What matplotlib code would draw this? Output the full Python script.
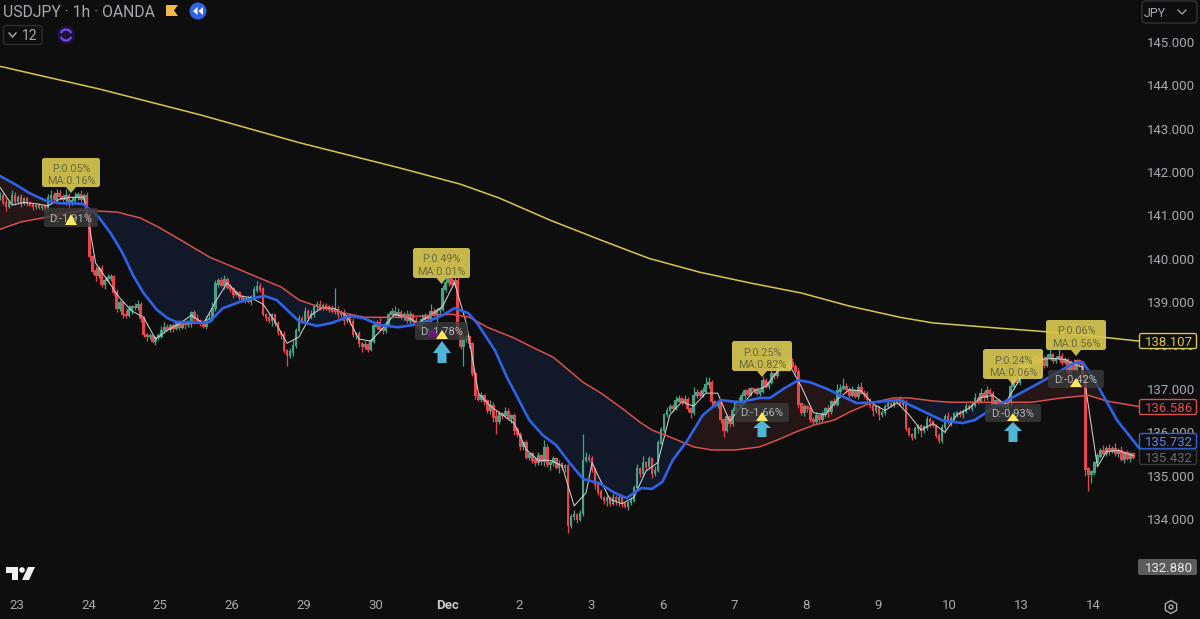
import numpy as np
import matplotlib
matplotlib.use("Agg")
import matplotlib.pyplot as plt
from matplotlib.patches import FancyBboxPatch, Polygon, Rectangle, Circle, Arc, RegularPolygon

plt.rcParams['font.family'] = ['Roboto', 'DejaVu Sans']

closes = [
141.45,141.30,141.22,141.30,141.46,141.32,141.40,141.28,141.38,141.28,141.24,141.20,141.22,141.18,141.21,141.16,
141.40,141.46,141.38,141.50,141.44,141.36,141.46,141.28,141.34,141.42,141.48,141.36,141.46,141.05,
140.05,139.72,139.62,139.78,139.40,139.50,139.56,139.58,139.22,138.85,
138.98,138.72,138.70,138.82,138.90,138.88,138.95,138.62,138.25,138.20,138.22,138.10,138.18,138.22,138.35,138.42,138.38,138.45,138.40,138.50,138.42,138.52,138.48,138.50,
138.75,138.62,138.58,138.52,138.45,138.60,138.62,138.85,139.42,139.50,139.38,139.52,139.35,139.30,139.18,139.22,139.10,139.05,139.08,139.02,139.12,139.28,139.35,139.30,138.72,138.65,138.58,138.70,138.50,138.32,138.25,137.88,137.78,137.85,138.00,138.35,
138.62,138.58,138.78,138.65,138.72,138.90,138.94,138.86,138.92,138.90,138.84,138.78,138.82,138.72,138.76,138.58,138.66,138.55,138.25,138.28,138.05,137.98,138.02,137.92,138.10,138.45,138.52,138.38,
138.35,138.48,138.72,138.78,138.70,138.76,138.68,138.72,138.58,138.72,138.55,138.50,138.45,138.60,138.68,138.62,138.78,138.72,138.80,138.84,139.30,139.45,139.55,139.40,139.50,138.30,137.98,138.15,138.20,138.05,137.35,136.85,136.75,136.85,136.72,136.50,136.62,136.35,136.25,136.42,136.38,136.48,136.32,136.38,136.05,135.95,135.68,135.75,135.42,135.50,135.36,135.30,135.45,135.32,135.65,135.25,135.30,135.38,135.20,135.28,135.18,135.22,
133.85,134.05,134.10,134.00,134.12,135.35,135.42,135.38,135.15,134.80,134.62,134.50,134.42,134.48,134.35,134.50,134.42,134.48,134.35,134.30,134.38,134.42,134.72,135.15,135.05,135.30,135.22,135.38,135.05,135.12,135.75,136.05,136.40,136.50,136.60,136.55,136.72,136.78,136.70,136.75,136.55,136.45,136.85,136.92,136.85,136.95,137.10,137.15,136.70,136.62,136.68,136.30,136.05,136.35,136.20,136.50,136.70,136.62,136.85,136.95,136.88,137.00,136.98,136.90,
136.95,137.20,137.05,137.15,137.35,137.30,137.55,137.45,137.55,137.48,137.60,137.52,137.40,136.65,136.45,136.60,136.55,136.30,136.25,136.38,136.30,136.42,136.55,136.48,136.70,136.65,136.95,137.00,137.05,136.98,136.85,136.95,136.82,137.02,136.90,136.88,136.75,136.62,136.50,136.58,136.42,136.45,136.60,136.65,136.62,136.70,136.72,136.64,136.70,136.08,135.95,135.88,136.08,136.15,136.05,136.12,136.30,136.25,136.15,135.92,135.82,136.10,136.35,136.25,
136.32,136.42,136.45,136.40,136.48,136.60,136.55,136.62,136.78,136.70,136.88,136.80,136.95,136.90,136.65,136.72,136.62,136.70,136.60,136.68,137.05,137.20,137.15,137.35,137.55,137.50,137.65,137.60,137.72,137.62,137.70,137.55,137.72,137.78,137.65,137.70,137.75,137.62,137.68,137.38,137.60,137.45,137.65,137.58,137.30,135.15,135.02,135.08,135.30,135.45,135.58,135.50,135.62,135.55,135.62,135.50,135.58,135.38,135.52,135.40,135.50,135.43]

upper_wick = [
8,6,10,5,12,7,6,9,5,4,6,3,5,7,4,6,9,12,7,10,
8,5,14,6,9,11,7,10,5,8,6,4,12,5,8,6,10,7,4,9,
6,5,10,12,4,8,9,5,6,4,7,3,5,6,10,12,8,4,7,5,
9,6,4,8,5,7,10,4,6,8,12,15,8,6,9,10,5,7,4,6,
3,6,4,7,5,10,14,8,6,4,9,5,3,6,4,8,5,10,12,6,
8,5,10,7,9,5,8,12,6,7,4,9,50,10,6,8,5,4,9,3,
6,4,8,3,7,10,6,14,5,8,6,9,12,10,7,5,9,8,4,10,
6,12,8,5,18,9,6,5,10,12,8,7,9,12,6,10,4,5,3,4,
6,8,4,5,12,7,15,6,5,9,8,4,6,8,5,4,7,3,5,6,
10,4,18,7,3,6,4,8,3,5,4,6,10,4,8,60,12,8,6,3,
4,6,3,8,5,10,4,6,3,5,4,8,6,12,5,15,4,8,5,10,
6,8,4,7,5,6,12,7,4,10,5,3,20,8,6,10,18,12,6,4,
5,4,3,6,4,8,5,10,7,4,8,5,3,7,4,10,6,5,8,4,
9,6,8,5,10,12,6,7,4,6,3,5,4,8,5,6,4,7,5,8,
15,10,20,8,6,12,5,10,14,7,6,4,8,5,3,6,4,7,5,6,
4,12,6,5,3,4,6,3,5,4,8,6,4,3,5,10,6,12,5,4,
4,6,5,8,4,10,12,6,15,7,12,8,6,4,5,3,6,8,10,12,
6,8,5,10,4,7,5,12,20,6,8,14,5,6,18,7,5,4,6,8,
4,3,6,8,4,5,3,8,6,12,5,10,7,14,6,9,5,8,4,3]

lower_wick = [
10,7,12,4,6,8,5,9,4,6,3,7,5,4,6,8,5,7,4,6,
9,5,12,8,4,6,7,5,8,6,10,8,14,6,5,9,4,7,6,8,
5,8,6,4,9,7,5,8,6,10,4,5,9,6,4,7,5,6,8,4,
7,5,10,6,8,12,4,6,5,7,3,5,6,8,4,7,5,6,9,4,
6,5,7,4,8,3,5,6,4,9,5,12,6,8,10,6,25,8,10,5,
4,7,5,9,3,6,8,4,5,7,6,4,5,8,6,10,5,7,6,9,
8,12,6,8,5,4,7,5,8,6,4,9,5,7,6,10,5,8,6,4,
7,5,9,6,8,4,30,12,5,6,8,5,4,9,6,45,7,10,5,8,
4,6,9,5,7,12,30,6,8,4,5,10,12,6,9,8,5,7,6,8,
5,7,10,6,12,8,6,14,5,9,18,5,7,10,6,5,4,6,8,12,
6,5,8,12,6,4,9,12,7,5,10,6,4,5,8,6,9,4,10,6,
4,3,5,6,4,8,5,3,7,4,9,12,5,6,4,3,5,7,10,5,
6,8,15,4,8,6,5,4,6,9,3,5,7,4,6,5,3,6,4,7,
5,4,3,8,6,4,7,10,6,8,9,6,8,5,12,6,8,14,6,5,
4,6,3,8,7,5,4,6,3,10,4,7,12,5,15,8,6,4,5,3,
6,4,7,5,3,6,4,10,15,8,6,12,4,5,8,6,12,7,10,5,
6,4,8,3,5,7,4,6,3,8,5,4,6,5,3,7,4,6,8,5,
4,6,3,10,5,4,6,8,3,7,5,4,6,5,3,8,4,12,6,5,
4,7,3,15,38,20,6,4,5,3,6,8,4,5,7,4,10,5,8,4]

fast_x = [0,4,8,12,16,20,24,28,29,32,36,40,44,48,52,56,60,64,68,72,76,80,84,88,92,96,100,104,108,112,116,120,124,128,132,136,140,144,148,152,156,160,164,168,172,176,180,184,188,192,196,198,200,204,208,212,216,220,224,228,232,236,240,244,248,252,256,260,264,268,272,276,280,284,288,292,296,300,304,308,312,316,320,324,328,332,336,340,344,348,352,356,360,362,364,367,370,374,378,379]
fast_y = [141.65,141.24,141.30,141.27,141.22,141.38,141.42,141.42,141.10,139.90,139.50,139.10,138.80,138.65,138.15,138.35,138.50,138.70,138.50,139.00,139.45,139.15,139.10,138.95,138.55,138.05,138.20,138.70,138.88,138.85,138.68,138.15,138.10,138.40,138.72,138.65,138.52,138.70,138.90,139.45,138.50,136.90,136.60,136.40,136.20,135.60,135.35,135.35,135.22,134.30,134.60,135.30,135.00,134.45,134.35,134.50,135.10,135.30,136.40,136.70,136.60,136.90,136.90,136.25,136.60,136.95,137.05,137.40,137.55,137.05,136.45,136.40,136.75,136.98,136.95,136.65,136.50,136.68,136.40,136.05,136.20,136.00,136.40,136.55,136.80,136.85,136.65,137.10,137.60,137.68,137.70,137.68,137.55,137.50,136.60,135.20,135.55,135.58,135.48,135.46]

blue_x = [0,5,10,15,20,25,28,29,33,37,41,44.5,48,52.5,56,59,63.5,67,70,74.5,80,84.5,88.5,92.5,96,100,106,111,117,121.5,127,133,138,144,148,152,156.5,159.5,165.5,169.5,173,177,181.5,186,190.5,195,200.5,205,209.5,214.5,218,221.5,225,229.5,235,241,247.5,254,257.5,262,267,271,276.5,281,286.5,292,301,304.5,310,315.5,322,326,332,337,345.5,351,359,362,365.5,373.5,381]
blue_y = [141.91,141.72,141.51,141.35,141.28,141.28,141.26,141.19,140.96,140.59,140.13,139.62,139.21,138.82,138.63,138.54,138.54,138.52,138.54,138.86,139.00,139.09,139.14,139.05,138.82,138.56,138.45,138.52,138.68,138.63,138.47,138.42,138.47,138.58,138.70,138.86,138.75,138.52,137.89,137.27,136.81,136.28,135.93,135.70,135.29,134.92,134.82,134.62,134.48,134.71,134.69,134.85,135.36,135.77,136.39,136.74,136.69,136.79,136.79,137.00,137.20,137.15,137.00,136.85,136.67,136.69,136.74,136.62,136.44,136.26,136.21,136.28,136.55,136.74,137.06,137.27,137.59,137.62,137.27,136.28,135.63]

red_x = [0,7,14,22,28,33,39,47,53,61,70,78,87,94,100,107,115,122,134,145,151,157,163,172,178,185,195,201,208,214,218,224,232,238,246,254,260,266,272,279,284,291,299,304,312,318,329,345,355,364,370,381]
red_y = [140.68,140.85,140.94,141.05,141.12,141.10,141.08,140.94,140.73,140.41,140.04,139.81,139.55,139.35,139.05,138.88,138.75,138.65,138.65,138.70,138.72,138.65,138.42,138.17,137.96,137.73,137.15,136.90,136.55,136.23,136.05,135.89,135.66,135.59,135.59,135.66,135.82,136.00,136.16,136.28,136.46,136.67,136.79,136.79,136.72,136.69,136.69,136.69,136.79,136.85,136.72,136.59]

yellow_x = [0,33,67,100,134,154,167,184,201,217,234,251,268,284,301,312,334,357,381]
yellow_y = [144.44,143.92,143.32,142.68,142.09,141.72,141.40,140.89,140.43,140.01,139.69,139.44,139.21,138.91,138.65,138.52,138.40,138.28,138.10]

price_ticks = [134,135,136,137,138,139,140,141,142,143,144,145]
day_labels = ['23','24','25','26','29','30','Dec','2','3','6','7','8','9','10','13','14']
day_ticks = [5.6 + 24*i for i in range(len(day_labels))]

BG = '#0e0e0e'
fig = plt.figure(figsize=(12, 6.19), dpi=100, facecolor=BG)
ax = fig.add_axes([0, 0, 1, 1], facecolor=BG)
ax.set_xlim(0, 401.3)
ax.set_ylim(131.69, 145.97)
for s in ax.spines.values():
    s.set_visible(False)

n = len(closes)
c = np.array(closes)
o = np.r_[c[0], c[:-1]]
x = np.arange(n)
hi = np.maximum(o, c) + np.array(upper_wick[:n]) / 100
lo = np.minimum(o, c) - np.array(lower_wick[:n]) / 100
UP, DOWN = '#45a287', '#e8454e'
cols = [UP if a >= b else DOWN for a, b in zip(c, o)]

# area between the two moving averages
gx = np.union1d(blue_x, red_x)
gx = gx[gx <= 380]
gb = np.interp(gx, blue_x, blue_y)
gr = np.interp(gx, red_x, red_y)
ax.fill_between(gx, gb, gr, where=gb < gr, interpolate=True, color='#111827', lw=0, zorder=1)
ax.fill_between(gx, gb, gr, where=gb >= gr, interpolate=True, color='#241516', lw=0, zorder=1)

ax.vlines(x, lo, hi, colors=cols, lw=0.9, zorder=2)
ax.bar(x, np.abs(c - o) + 0.03, bottom=np.minimum(o, c) - 0.015, width=0.88, color=cols, lw=0, zorder=2.1)

ax.plot(fast_x, fast_y, color='#cfcfcf', lw=0.75, zorder=3)
ax.plot(yellow_x, yellow_y, color='#d8c84a', lw=1.1, zorder=3)
ax.plot(red_x, red_y, color='#d9504e', lw=1.1, zorder=3.1)
ax.plot(blue_x, blue_y, color='#2f62e6', lw=1.9, zorder=3.2)

TXT = '#a8aab0'
ax.yaxis.tick_right()
ax.set_yticks(price_ticks, [f'{v:.3f}' for v in price_ticks])
ax.tick_params(axis='y', length=0, direction='in', pad=-38, labelsize=9.5, labelcolor=TXT)
ax.set_xticks(day_ticks, day_labels)
ax.tick_params(axis='x', length=0, direction='in', pad=-14.5, labelsize=9.5, labelcolor=TXT)
for lab, t in zip(ax.get_xticklabels(), day_labels):
    if t == 'Dec':
        lab.set_fontweight('bold')
        lab.set_color('#c8c8c8')

# overlay in pixel coordinates
ov = fig.add_axes([0, 0, 1, 1], facecolor='none')
ov.set_xlim(0, 1200)
ov.set_ylim(619, 0)
ov.axis('off')

# price tags
tags = [('138.107', 341, '#d8c84a', '#d8c84a'),
        ('136.586', 407, '#d9504e', '#d9504e'),
        ('135.732', 441, '#2f62e6', '#5f86ee'),
        ('135.432', 457, '#3a3a3a', '#6a6b6d')]
for t, y, ec, tc in tags:
    ov.add_patch(FancyBboxPatch((1139.5, y - 7.5), 57, 15, boxstyle='round,pad=0,rounding_size=2',
                                fc=BG, ec=ec, lw=1, zorder=5))
    ov.text(1169, y, t, color=tc, fontsize=9.5, ha='center', va='center_baseline', zorder=6)
ov.add_patch(FancyBboxPatch((1138, 559), 59, 16, boxstyle='round,pad=0,rounding_size=2',
                            fc='#5c5c5c', ec='none', zorder=5))
ov.text(1169, 567, '132.880', color='#e8e8e8', fontsize=9.5, ha='center', va='center_baseline', zorder=6)

# JPY box
ov.add_patch(FancyBboxPatch((1142, 1), 55, 22, boxstyle='round,pad=0,rounding_size=3',
                            fc=BG, ec='#333436', lw=1, zorder=5))
ov.text(1155, 12, 'JPY', color=TXT, fontsize=9, ha='center', va='center_baseline', zorder=6)
ov.plot([1178, 1182, 1186], [10, 14, 10], color=TXT, lw=0.9, zorder=6)

# header
ov.text(3, 11, 'USDJPY · 1h · OANDA', color=TXT, fontsize=11.3, ha='left', va='center_baseline')
ov.add_patch(Polygon([(166, 5), (178, 5), (174, 10.5), (178, 16), (166, 16)], fc='#f2b84b', ec='none'))
ov.add_patch(Circle((198, 11), 8.5, fc='#2f62e6', ec='none'))
ov.add_patch(Polygon([(197.5, 7), (197.5, 15), (193, 11)], fc='white', ec='none'))
ov.add_patch(Polygon([(203, 7), (203, 15), (198.5, 11)], fc='white', ec='none'))
ov.add_patch(FancyBboxPatch((3.5, 25.5), 38.5, 19, boxstyle='round,pad=0,rounding_size=3',
                            fc=BG, ec='#2e2f31', lw=1))
ov.plot([9, 12.5, 16], [33, 37, 33], color=TXT, lw=1)
ov.text(30, 35, '12', color=TXT, fontsize=10, ha='center', va='center_baseline')
ov.add_patch(Circle((66, 35), 9, fc='#1c1440', ec='none'))
ov.add_patch(Arc((66, 35), 11, 11, theta1=20, theta2=160, ec='#7a4cf0', lw=1.5))
ov.add_patch(Arc((66, 35), 11, 11, theta1=200, theta2=340, ec='#7a4cf0', lw=1.5))

# logo
ov.add_patch(Polygon([(6, 567), (18, 567), (18, 580), (12, 580), (12, 573), (6, 573)], fc='#f0f0f0', ec='none'))
ov.add_patch(Circle((22, 570), 2.8, fc='#f0f0f0', ec='none'))
ov.add_patch(Polygon([(28, 567), (35, 567), (29, 580), (22, 580)], fc='#f0f0f0', ec='none'))

# settings icon
ov.add_patch(RegularPolygon((1171, 607), 6, radius=6.5, fc='none', ec=TXT, lw=1))
ov.add_patch(Circle((1171, 607), 2, fc='none', ec=TXT, lw=1))

# signal boxes
dist = [(44, 208, 54, 19, 'D:-1.91%'), (415, 322, 53, 18, 'D:-1.78%'), (735, 403, 54, 19, 'D:-1.66%'),
        (985, 404, 56, 18, 'D:-0.93%'), (1048, 370, 56, 18, 'D:-0.42%')]
for bx, by, w, h, t in dist:
    ov.add_patch(FancyBboxPatch((bx, by), w, h, boxstyle='round,pad=0,rounding_size=2',
                                fc='#3a3a3a', ec='none', alpha=0.8, zorder=7))
    ov.text(bx + w / 2, by + h / 2, t, color='#b4b4b4', fontsize=8, ha='center', va='center_baseline', zorder=7.1)

for cx, top, base, col in [(71, 214, 225, '#ffe85c'), (433, 328, 337, '#6a1b7a'), (442, 330, 339, '#ffe85c'),
                           (762, 412, 421, '#ffe85c'), (1013, 413, 421, '#ffe85c'), (1076, 378, 387, '#ffe85c')]:
    ov.add_patch(Polygon([(cx, top), (cx + 6, base), (cx - 6, base)], fc=col, ec='none', zorder=7.5))

# arrows
for cx, tip, neck, end in [(442, 341, 353, 363), (762, 420, 428, 437), (1013, 422, 431, 442)]:
    ov.add_patch(Polygon([(cx, tip), (cx + 9, neck), (cx + 4.5, neck), (cx + 4.5, end),
                          (cx - 4.5, end), (cx - 4.5, neck), (cx - 9, neck)], fc='#4fb6d6', ec='none', zorder=7.5))

# tooltips
tips = [(42, 158, 58, 29, 'P:0.05%', 'MA:0.16%'), (413, 248, 57, 30, 'P:0.49%', 'MA:0.01%'),
        (732, 341, 60, 30, 'P:0.25%', 'MA:0.82%'), (983, 349, 60, 30, 'P:0.24%', 'MA:0.06%'),
        (1046, 320, 60, 30, 'P:0.06%', 'MA:0.56%')]
for bx, by, w, h, a, b in tips:
    cx = bx + w / 2
    ov.add_patch(FancyBboxPatch((bx, by), w, h, boxstyle='round,pad=0,rounding_size=2.5',
                                fc='#d6c650', ec='none', alpha=0.93, zorder=8))
    ov.add_patch(Polygon([(cx - 5, by + h), (cx + 5, by + h), (cx, by + h + 6)], fc='#d6c650', ec='none', alpha=0.93, zorder=8))
    ov.text(cx, by + h * 0.35, a, color='#6e6a3c', fontsize=7.8, ha='center', va='center_baseline', zorder=8.1)
    ov.text(cx, by + h * 0.76, b, color='#6e6a3c', fontsize=7.8, ha='center', va='center_baseline', zorder=8.1)

fig.savefig('out.png', dpi=100, facecolor=BG)
